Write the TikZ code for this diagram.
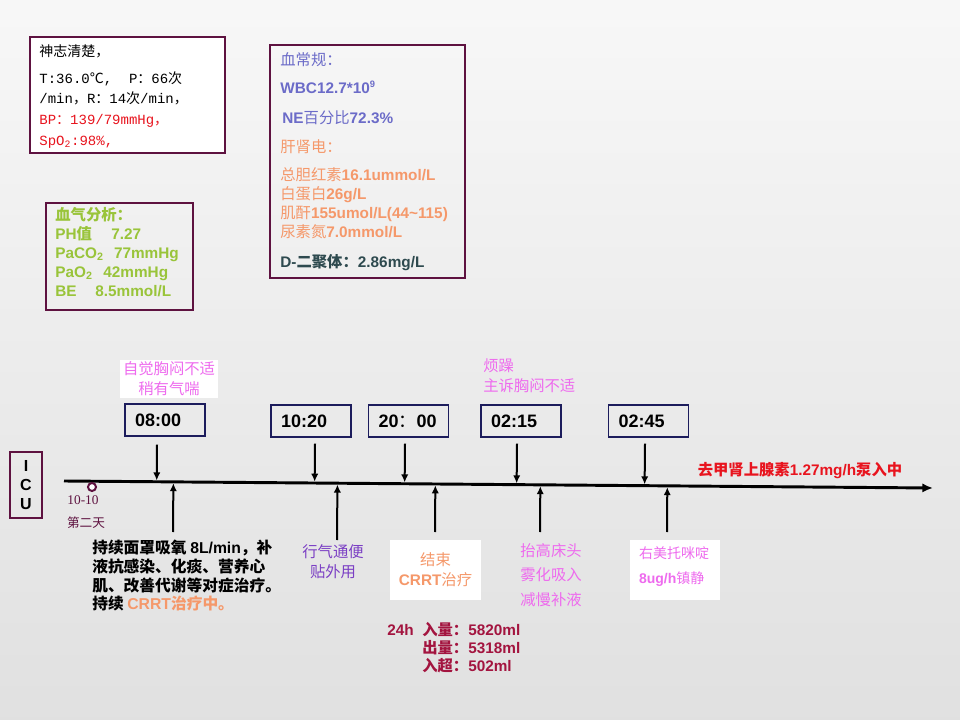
\documentclass[tikz,border=0pt]{standalone}
\usepackage{fontspec}
\setmainfont{Noto Sans CJK SC}
\newfontfamily\latb{Liberation Sans}
\newfontfamily\lser{Liberation Serif}
\newfontfamily\lmono{Liberation Mono}
\usetikzlibrary{arrows.meta, positioning, calc}

\definecolor{boxline}{HTML}{5E1240}
\definecolor{navyline}{HTML}{1C1C5C}
\definecolor{vitred}{HTML}{E8141E}
\definecolor{labblue}{HTML}{6B6BC8}
\definecolor{laborange}{HTML}{F5986A}
\definecolor{labdark}{HTML}{2E4A4F}
\definecolor{gasgreen}{HTML}{99C43A}
\definecolor{pinktxt}{HTML}{EE6AEE}
\definecolor{purpletxt}{HTML}{7B3FC4}
\definecolor{iored}{HTML}{A3143F}

\newcommand{\lb}[1]{{\latb\bfseries #1}}
\newcommand{\ls}[1]{{\lmono #1}}

\tikzset{
    infobox/.style={draw=boxline, line width=1.3pt},
    timebox/.style={draw=navyline, line width=0.9pt, minimum height=24pt, text width=45pt, inner xsep=7.5pt, align=left, font=\fontsize{13.5}{16}\selectfont},
    note/.style={fill=white, align=center, inner sep=1.5pt},
    downarrow/.style={line width=1.5pt, -{Latex[length=6pt,width=5.5pt]}, shorten >=1pt}
}

\begin{document}
\begin{tikzpicture}[x=0.75pt, y=-0.75pt, every node/.append style={inner sep=0pt}]
    % background
    \shade[top color=white!97!black, bottom color=black!12] (0,0) rectangle (960,720);
    \useasboundingbox (0,0) rectangle (960,720);

    % vital signs
    \node (VitalsBox) at (127.5,95) [infobox, fill=white, minimum width=146.25pt, minimum height=87pt]{};
    \node (Vitals) at ($(VitalsBox.north west)+(10,8)$) [anchor=north west, align=left, font=\fontsize{10.5}{15.5}\selectfont]{神志清楚，\\[4.7pt]
        \ls{T:36.0}℃\ls{,\ \ P}：\ls{66}次\\
        \ls{/min}，\ls{R}：\ls{14}次\ls{/min}，\\
        \textcolor{vitred}{\ls{BP}：\ls{139/79mmHg}，}\\
        \textcolor{vitred}{\ls{SpO\textsubscript{2}:98\%,}}};

    % lab results
    \node (LabBox) at (367.5,161.5) [infobox, minimum width=146.25pt, minimum height=174.75pt]{};
    \node (Lab) at ($(LabBox.north west)+(11,8)$) [anchor=north west, align=left, font=\fontsize{11.5}{14.25}\selectfont]{\textcolor{labblue}{血常规：}\\[6.75pt]
        \textcolor{labblue}{\lb{WBC12.7*10\textsuperscript{\fontsize{7}{8}\selectfont 9}}}\\[8.25pt]
        \textcolor{labblue}{\hspace*{1.5pt}\lb{NE}百分比\lb{72.3\%}}\\[7.5pt]
        \textcolor{laborange}{肝肾电：}\\[6.75pt]
        \textcolor{laborange}{总胆红素\lb{16.1ummol/L}}\\
        \textcolor{laborange}{白蛋白\lb{26g/L}}\\
        \textcolor{laborange}{肌酐\lb{155umol/L(44\textasciitilde115)}}\\
        \textcolor{laborange}{尿素氮\lb{7.0mmol/L}}\\[8.25pt]
        \textcolor{labdark}{\lb{D-}{\bfseries 二聚体：}\lb{2.86mg/L}}};

    % blood gas
    \node (GasBox) at (119.5,256.5) [infobox, minimum width=110.25pt, minimum height=80.25pt]{};
    \node (Gas) at ($(GasBox.north west)+(10,5)$) [anchor=north west, align=left, text=gasgreen, font=\bfseries\fontsize{11.5}{14.25}\selectfont]{血气分析：\\
        \makebox[42pt][l]{\lb{PH}值}\lb{7.27}\\
        \makebox[44pt][l]{\lb{PaCO\textsubscript{2}}}\lb{77mmHg}\\
        \makebox[36pt][l]{\lb{PaO\textsubscript{2}}}\lb{42mmHg}\\
        \makebox[30pt][l]{\lb{BE}}\lb{8.5mmol/L}};

    % ICU label and time line
    \node (ICU) at (26,485) [draw=boxline, line width=1.5pt, minimum width=24pt, minimum height=49.5pt, align=center, font=\latb\bfseries\fontsize{12}{14}\selectfont]{I\\C\\U};
    \coordinate (TimeStart) at (64,481);
    \coordinate (TimeEnd) at (933,488);
    \draw[line width=2.2pt, -{Latex[length=8pt,width=7pt]}] (TimeStart) -- (TimeEnd);

    \node (DayMark) at (92,487) [circle, draw=boxline, fill=white, line width=1.5pt, minimum size=6pt]{};
    \node (DayDate) at (83,500) [text=boxline, font=\lser\fontsize{10}{12}\selectfont]{10-10};
    \node (DayNum) at (86,523) [text=boxline, font=\fontsize{9.5}{11}\selectfont]{第二天};

    % time boxes
    \node (T0800) at (165,420) [timebox]{\lb{08:00}};
    \node (T1020) at (311,421) [timebox]{\lb{10:20}};
    \node (T2000) at (408.5,421) [timebox]{\lb{20}：\lb{00}};
    \node (T0215) at (521,421) [timebox]{\lb{02:15}};
    \node (T0245) at (648.5,421) [timebox]{\lb{02:45}};

    \coordinate (D0800) at ($(T0800.south)+(-8,8)$);
    \coordinate (D1020) at ($(T1020.south)+(4,6)$);
    \coordinate (D2000) at ($(T2000.south)+(-3.5,6)$);
    \coordinate (D0215) at ($(T0215.south)+(-4,6)$);
    \coordinate (D0245) at ($(T0245.south)+(-3.5,6)$);
    \foreach \t in {0800,1020,2000,0215,0245}
        \draw[downarrow] (D\t) -- ($(TimeStart)!(D\t)!(TimeEnd)$);

    % notes above the line
    \node (Note0800) at (169,379) [note, text=pinktxt, minimum width=73.5pt, minimum height=28.5pt, font=\fontsize{11.5}{15}\selectfont]{自觉胸闷不适\\稍有气喘};
    \node (Note0215) at (483,358) [anchor=north west, align=left, text=pinktxt, font=\fontsize{11.5}{15}\selectfont]{烦躁\\主诉胸闷不适};
    \node (Drip) at (800,471) [text=vitred, font=\bfseries\fontsize{11.5}{13}\selectfont]{去甲肾上腺素\lb{1.27mg/h}泵入中};

    % notes below the line
    \coordinate (U0800) at (173,532);
    \coordinate (U1020) at (337,540);
    \coordinate (U2000) at (435,532);
    \coordinate (U0215) at (540,532);
    \coordinate (U0245) at (667,532);
    \foreach \t in {0800,1020,2000,0215,0245}
        \draw[downarrow] (U\t) -- ($(TimeStart)!(U\t)!(TimeEnd)$);

    \node (Care0800) at (92,540) [anchor=north west, align=left, font=\bfseries\fontsize{11.8}{14}\selectfont]{持续面罩吸氧 \lb{8L/min}，补\\
        液抗感染、化痰、营养心\\
        肌、改善代谢等对症治疗。\\
        持续 \textcolor{laborange}{\lb{CRRT}治疗中。}};
    \node (Note1020) at (333,562) [align=center, text=purpletxt, font=\fontsize{11.5}{15}\selectfont]{行气通便\\贴外用};
    \node (Note2000) at (435.5,570) [note, text=laborange, minimum width=68pt, minimum height=45pt, font=\fontsize{11.5}{15}\selectfont]{结束\\\lb{CRRT}治疗};
    \node (Fluid) at (387,622.5) [anchor=north west, align=left, text=iored, font=\bfseries\fontsize{11.5}{13.5}\selectfont]{\makebox[26.25pt][l]{\lb{24h}}入量：\lb{5820ml}\\
        \hspace*{26.25pt}出量：\lb{5318ml}\\
        \hspace*{26.25pt}入超：\lb{502ml}};
    \node (Note0215b) at (551,575) [align=center, text=pinktxt, font=\fontsize{11.5}{18.4}\selectfont]{抬高床头\\雾化吸入\\减慢补液};
    \node (Note0245Box) at (675,570) [note, minimum width=67.5pt, minimum height=45pt]{};
    \node (Note0245) at ($(Note0245Box.center)+(-1,-3.5)$) [align=left, text=pinktxt, font=\fontsize{10.5}{18.75}\selectfont]{右美托咪啶\\\lb{8ug/h}镇静};
\end{tikzpicture}
\end{document}
